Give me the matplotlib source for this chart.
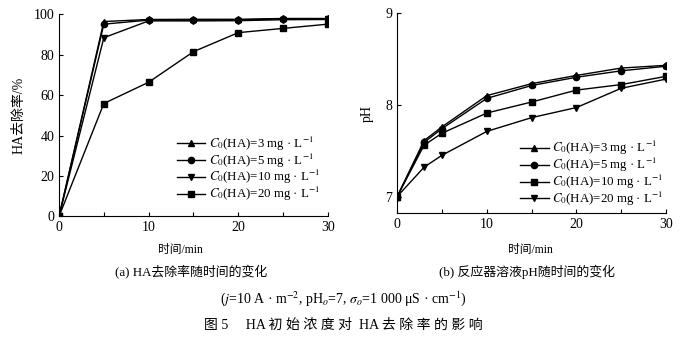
import numpy as np
import matplotlib.pyplot as plt
from matplotlib.ticker import MultipleLocator

plt.rcParams['font.family'] = ['Liberation Serif', 'Noto Sans CJK SC']
plt.rcParams['mathtext.fontset'] = 'stix'

# 数据
t_a = [0, 5, 10, 15, 20, 25, 30]
rem_3 = [0, 96.3, 97.3, 97.4, 97.4, 97.8, 97.8]
rem_5 = [0, 95.0, 97.0, 97.0, 97.1, 97.6, 97.6]
rem_10 = [0, 88.3, 96.6, 96.6, 96.7, 97.2, 97.3]
rem_20 = [0, 55.8, 66.3, 81.4, 90.8, 92.9, 95.0]

t_b = [0, 3, 5, 10, 15, 20, 25, 30]
ph_3 = [7.0, 7.61, 7.76, 8.10, 8.23, 8.32, 8.40, 8.43]
ph_5 = [7.0, 7.59, 7.74, 8.07, 8.21, 8.30, 8.37, 8.42]
ph_10 = [7.0, 7.56, 7.69, 7.91, 8.03, 8.16, 8.22, 8.31]
ph_20 = [7.0, 7.32, 7.45, 7.71, 7.86, 7.97, 8.18, 8.28]

labels = [r'$C_0$(HA)=3 mg · L$^{-1}$', r'$C_0$(HA)=5 mg · L$^{-1}$',
          r'$C_0$(HA)=10 mg · L$^{-1}$', r'$C_0$(HA)=20 mg · L$^{-1}$']

fig = plt.figure(figsize=(6.86, 3.42), dpi=100)
ax1 = fig.add_axes([0.086, 0.367, 0.392, 0.592])
ax2 = fig.add_axes([0.579, 0.377, 0.392, 0.585])

kw = dict(color='black', lw=1.0, ms=4.5)

# (a) 去除率
ax1.plot(t_a, rem_3, marker='^', label=labels[0], **kw)
ax1.plot(t_a, rem_5, marker='o', label=labels[1], **kw)
ax1.plot(t_a, rem_10, marker='v', label=labels[2], **kw)
ax1.plot(t_a, rem_20, marker='s', label=labels[3], **kw)
ax1.set_xlim(0, 30)
ax1.set_ylim(0, 100)
ax1.set_yticks(np.arange(0, 101, 20))
ax1.set_ylabel('HA去除率/%', fontsize=10, labelpad=6)

# (b) pH
ax2.plot(t_b, ph_3, marker='^', label=labels[0], **kw)
ax2.plot(t_b, ph_5, marker='o', label=labels[1], **kw)
ax2.plot(t_b, ph_10, marker='s', label=labels[2], **kw)
ax2.plot(t_b, ph_20, marker='v', label=labels[3], **kw)
ax2.set_xlim(0, 30)
ax2.set_ylim(6.82, 9)
ax2.set_yticks([7, 8, 9])
ax2.set_ylabel('pH', fontsize=10, labelpad=8)

for ax in (ax1, ax2):
    ax.spines['top'].set_visible(False)
    ax.spines['right'].set_visible(False)
    ax.xaxis.set_major_locator(MultipleLocator(10))
    ax.xaxis.set_minor_locator(MultipleLocator(5))
    ax.tick_params(direction='in', labelsize=10, length=3, width=0.8)
    ax.tick_params(which='minor', direction='in', length=3, width=0.8)

leg_kw = dict(loc='lower right', frameon=False, fontsize=9.3, handlelength=2.2,
              handletextpad=0.3, labelspacing=-0.1, borderaxespad=0.0)
ax1.legend(bbox_to_anchor=(0.99, 0.04), **leg_kw)
ax2.legend(bbox_to_anchor=(1.01, 0.0), **leg_kw)

fig.text(0.263, 0.268, '时间/min', ha='center', va='center', fontsize=8.5)
fig.text(0.773, 0.268, '时间/min', ha='center', va='center', fontsize=8.5)
fig.text(0.279, 0.205, '(a) HA去除率随时间的变化', ha='center', va='center', fontsize=9.3)
fig.text(0.768, 0.205, '(b) 反应器溶液pH随时间的变化', ha='center', va='center', fontsize=9.3)
fig.text(0.5, 0.128, r'($j$=10 A · m$^{-2}$, pH$_o$=7, $\sigma_o$=1 000 μS · cm$^{-1}$)',
         ha='center', va='center', fontsize=10)
fig.text(0.5, 0.05, '图 5     HA 初 始 浓 度 对  HA 去 除 率 的 影 响',
         ha='center', va='center', fontsize=10)

fig.savefig('out.png', dpi=100)
